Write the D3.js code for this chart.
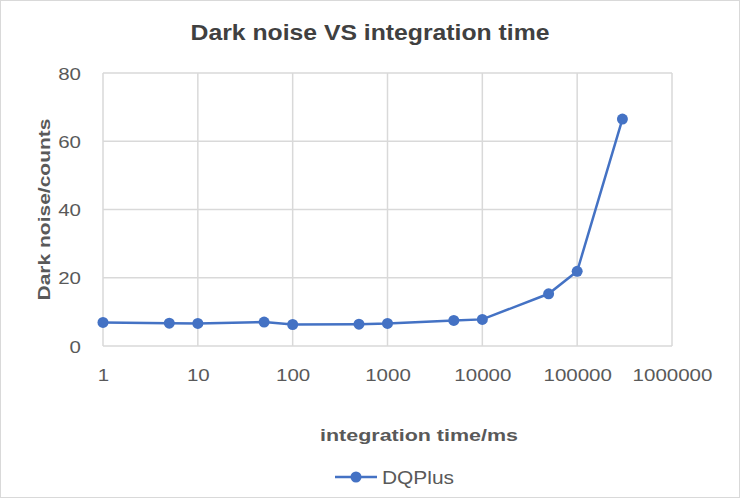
<!DOCTYPE html>
<html>
<head>
<meta charset="utf-8">
<script src="https://cdn.jsdelivr.net/npm/d3@7"></script>
<style>
  body { margin: 0; background: #fff; }
  text { font-family: "Liberation Sans", Arial, sans-serif; }
</style>
</head>
<body>
<div id="chart"></div>
<script>
// data
var times = [1, 5, 10, 50, 100, 500, 1000, 5000, 10000, 50000, 100000, 300000];
var noise = [6.9, 6.7, 6.6, 7.0, 6.3, 6.4, 6.6, 7.5, 7.8, 15.3, 21.9, 66.5];
var xTicks = [1, 10, 100, 1000, 10000, 100000, 1000000];
var yTicks = [0, 20, 40, 60, 80];
var seriesName = "DQPlus";

(function() {
    var width = 740, height = 498,
        plotLeft = 103, plotRight = 672, plotTop = 73, plotBottom = 346;
    var lineColor = "#4472c4", gridColor = "#d9d9d9", textColor = "#595959";
    var digitW = 11.4; // the reference font is rendered wide

    var svg = d3.select("#chart").append("svg")
        .attr("width", width)
        .attr("height", height);

    svg.append("rect")
        .attr("x", 0.5).attr("y", 0.5)
        .attr("width", width - 1).attr("height", height - 1)
        .style("fill", "#fff")
        .style("stroke", gridColor);

    var x = d3.scaleLog().domain([1, 1000000]).range([plotLeft, plotRight]);
    var y = d3.scaleLinear().domain([0, 80]).range([plotBottom, plotTop]);

    // gridlines
    svg.append("g").selectAll("line")
        .data(yTicks)
        .enter().append("line")
            .attr("x1", plotLeft).attr("x2", plotRight)
            .attr("y1", function(d) { return y(d); })
            .attr("y2", function(d) { return y(d); })
            .style("stroke", gridColor)
            .style("stroke-width", 1.5);

    svg.append("g").selectAll("line")
        .data(xTicks)
        .enter().append("line")
            .attr("y1", plotTop).attr("y2", plotBottom)
            .attr("x1", function(d) { return x(d); })
            .attr("x2", function(d) { return x(d); })
            .style("stroke", gridColor)
            .style("stroke-width", 1.5);

    // tick labels
    var yAxis = svg.append("g")
        .attr("transform", "translate(" + (plotLeft - 22) + ",0)")
        .call(d3.axisLeft(y).tickValues(yTicks).tickSize(0).tickPadding(0));
    yAxis.select(".domain").remove();
    yAxis.selectAll("text")
        .attr("dy", "0.36em")
        .attr("textLength", function(d) { return String(d).length * digitW; })
        .attr("lengthAdjust", "spacingAndGlyphs")
        .style("font-size", "17px")
        .style("fill", textColor);

    var xAxis = svg.append("g")
        .attr("transform", "translate(0," + (plotBottom + 35) + ")")
        .call(d3.axisBottom(x).tickValues(xTicks).tickFormat(d3.format("d")).tickSize(0).tickPadding(0));
    xAxis.select(".domain").remove();
    xAxis.selectAll("text")
        .attr("dy", 0)
        .attr("textLength", function(d) { return String(d).length * digitW; })
        .attr("lengthAdjust", "spacingAndGlyphs")
        .style("font-size", "17px")
        .style("fill", textColor);

    // series
    var pts = times.map(function(t, i) { return [t, noise[i]]; });

    svg.append("path")
        .datum(pts)
        .attr("d", d3.line().x(function(d) { return x(d[0]); }).y(function(d) { return y(d[1]); }))
        .style("fill", "none")
        .style("stroke", lineColor)
        .style("stroke-width", 2.5);

    svg.selectAll("circle.pt")
        .data(pts)
        .enter().append("circle")
            .attr("class", "pt")
            .attr("cx", function(d) { return x(d[0]); })
            .attr("cy", function(d) { return y(d[1]); })
            .attr("r", 5.5)
            .style("fill", lineColor);

    // titles
    svg.append("text")
        .attr("x", 370).attr("y", 40)
        .attr("text-anchor", "middle")
        .attr("textLength", 359)
        .attr("lengthAdjust", "spacingAndGlyphs")
        .style("font-size", "22px")
        .style("font-weight", "bold")
        .style("fill", "#404040")
        .text("Dark noise VS integration time");

    svg.append("text")
        .attr("transform", "translate(50," + ((plotTop + plotBottom) / 2) + ") rotate(-90)")
        .attr("text-anchor", "middle")
        .attr("textLength", 182)
        .attr("lengthAdjust", "spacingAndGlyphs")
        .style("font-size", "17px")
        .style("font-weight", "bold")
        .style("fill", textColor)
        .text("Dark noise/counts");

    svg.append("text")
        .attr("x", 419).attr("y", 441)
        .attr("text-anchor", "middle")
        .attr("textLength", 198)
        .attr("lengthAdjust", "spacingAndGlyphs")
        .style("font-size", "17px")
        .style("font-weight", "bold")
        .style("fill", textColor)
        .text("integration time/ms");

    // legend
    var lg = svg.append("g").attr("transform", "translate(335,477)");
    lg.append("line")
        .attr("x1", 0).attr("x2", 42)
        .style("stroke", lineColor)
        .style("stroke-width", 2.5);
    lg.append("circle")
        .attr("cx", 21).attr("r", 5.5)
        .style("fill", lineColor);
    lg.append("text")
        .attr("x", 47).attr("y", 6.5)
        .attr("textLength", 72)
        .attr("lengthAdjust", "spacingAndGlyphs")
        .style("font-size", "18px")
        .style("fill", textColor)
        .text(seriesName);
}());
</script>
</body>
</html>
